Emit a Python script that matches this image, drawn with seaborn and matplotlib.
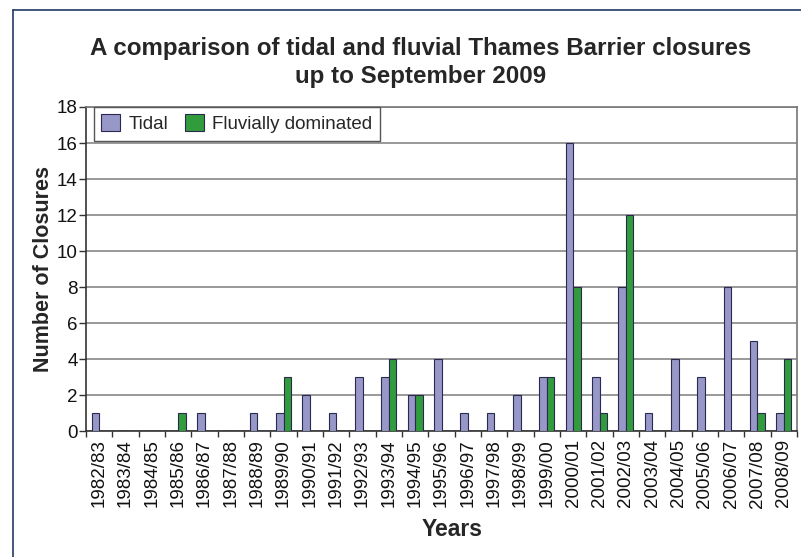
import numpy as np
import pandas as pd
import matplotlib
matplotlib.use("Agg")
import matplotlib.pyplot as plt
import seaborn as sns
from matplotlib.lines import Line2D
from matplotlib.ticker import FixedLocator

years = ["1982/83", "1983/84", "1984/85", "1985/86", "1986/87", "1987/88", "1988/89",
         "1989/90", "1990/91", "1991/92", "1992/93", "1993/94", "1994/95", "1995/96",
         "1996/97", "1997/98", "1998/99", "1999/00", "2000/01", "2001/02", "2002/03",
         "2003/04", "2004/05", "2005/06", "2006/07", "2007/08", "2008/09"]
tidal = [1, 0, 0, 0, 1, 0, 1, 1, 2, 1, 3, 3, 2, 4, 1, 1, 2, 3, 16, 3, 8, 1, 4, 3, 8, 5, 1]
fluvial = [0, 0, 0, 1, 0, 0, 0, 3, 0, 0, 0, 4, 2, 0, 0, 0, 0, 3, 8, 1, 12, 0, 0, 0, 0, 1, 4]
series_names = ["Tidal", "Fluvially dominated"]
y_ticks = list(range(0, 19, 2))

sns.set_theme(style="white")
plt.rcParams['font.family'] = ['Liberation Sans', 'DejaVu Sans']

df = pd.DataFrame({
    "Years": years * 2,
    "Closures": tidal + fluvial,
    "Type": [series_names[0]] * len(years) + [series_names[1]] * len(years),
})

fig = plt.figure(figsize=(8.01, 5.57), dpi=100)
ax = fig.add_axes([0.1074, 0.2262, 0.8876, 0.5817])

sns.barplot(data=df, x="Years", y="Closures", hue="Type", order=years,
            hue_order=series_names, palette=["#9090d0", "#1fae2c"], width=0.57,
            edgecolor="#2a2a50", linewidth=0.8, ax=ax, zorder=3)

ax.set_ylim(0, 18)
ax.set_xlim(-0.5, len(years) - 0.5)
ax.set_yticks(y_ticks)
ax.set_yticklabels([str(t) for t in y_ticks], fontsize=13.5, color="#111111")
ax.yaxis.grid(True, color="#888888", linewidth=1.2, zorder=0)
ax.set_axisbelow(True)

# Excel style: ticks between categories
ax.set_xticks(range(len(years)))
ax.set_xticklabels(years, rotation=90, fontsize=13.5, color="#111111")
ax.tick_params(axis="x", which="major", length=0, pad=6)
ax.xaxis.set_minor_locator(FixedLocator(np.arange(-0.5, len(years), 1)))
ax.tick_params(axis="x", which="minor", bottom=True, length=4, width=1, color="#333333")
ax.tick_params(axis="y", left=True, length=5, width=1, color="#333333", pad=1)

for side in ["left", "bottom"]:
    ax.spines[side].set_color("#333333")
    ax.spines[side].set_linewidth(1.2)
for side in ["top", "right"]:
    ax.spines[side].set_color("#777777")
    ax.spines[side].set_linewidth(1.2)

ax.set_ylabel("Number of Closures", fontsize=15.5, fontweight="bold")
ax.yaxis.set_label_coords(-0.045, 0.5)
ax.set_xlabel("Years", fontsize=16.5, fontweight="bold")
ax.xaxis.set_label_coords(0.515, -0.268)

leg = ax.legend(loc="upper left", bbox_to_anchor=(0.011, 1.0), ncol=2, fontsize=13.5,
                frameon=True, fancybox=False, framealpha=1, borderaxespad=0,
                handlelength=1.0, handleheight=1.0, columnspacing=0.9,
                handletextpad=0.45, borderpad=0.4)
leg.get_frame().set_edgecolor("#555555")
leg.get_frame().set_linewidth(1.0)

fig.text(0.525, 0.913, "A comparison of tidal and fluvial Thames Barrier closures",
         ha="center", va="center", fontsize=17.4, fontweight="bold")
fig.text(0.525, 0.862, "up to September 2009",
         ha="center", va="center", fontsize=17.4, fontweight="bold")

# outer chart frame (left and top edges visible)
fig.add_artist(Line2D([0.0162, 0.0162], [0.0, 0.982], transform=fig.transFigure,
                      color="#1f3a66", linewidth=1.2))
fig.add_artist(Line2D([0.0162, 1.0], [0.982, 0.982], transform=fig.transFigure,
                      color="#1f3a66", linewidth=1.2))

fig.savefig("out.png", dpi=100)
